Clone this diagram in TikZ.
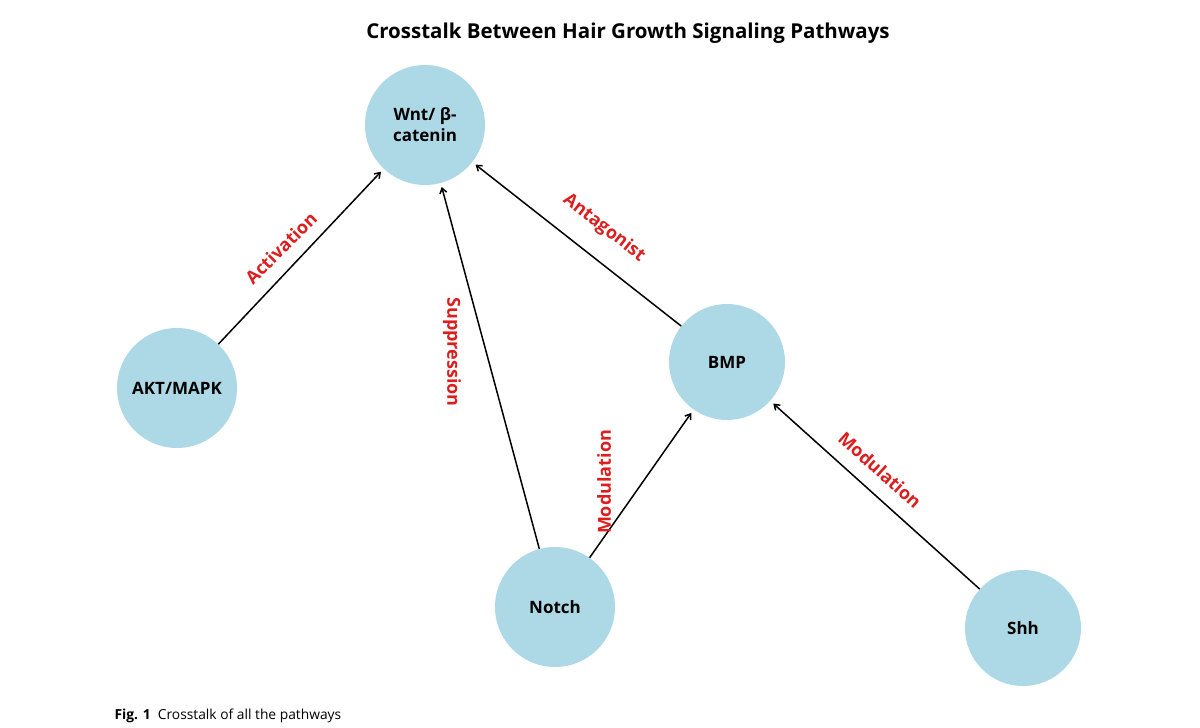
\documentclass[tikz,border=0pt]{standalone}
\usepackage{fontspec}
\setmainfont{Open Sans}
\usetikzlibrary{arrows.meta}
\begin{document}
\begin{tikzpicture}[x=1pt,y=-1pt,
  pw/.style={circle,fill={rgb,255:red,173;green,216;blue,230},draw=none,font=\fontsize{17}{21}\selectfont\bfseries,align=center},
  ed/.style={-{Straight Barb[length=5pt,width=7pt]},line width=1.5pt,shorten >=4pt},
  lab/.style={text={rgb,255:red,220;green,30;blue,30},font=\fontsize{18}{20}\selectfont\bfseries}]
\useasboundingbox (0,0) rectangle (1200,728);
\node[font=\fontsize{20.5}{24}\selectfont\bfseries] (title) at (628,33) {Crosstalk Between Hair Growth Signaling Pathways};
\node[pw,minimum size=120pt] (wnt) at (425,125) {Wnt/ β-\\catenin};
\node[pw,minimum size=120pt] (akt) at (177,388) {AKT/MAPK};
\node[pw,minimum size=116pt] (bmp) at (727,362) {BMP};
\node[pw,minimum size=120pt] (notch) at (555,607) {Notch};
\node[pw,minimum size=116pt] (shh) at (1023,628) {Shh};
\draw[ed] (akt) -- (wnt);
\draw[ed] (notch) -- (wnt);
\draw[ed] (bmp) -- (wnt);
\draw[ed] (notch) -- (bmp);
\draw[ed] (shh) -- (bmp);
\node[lab,rotate=45] (l1) at (281,248) {Activation};
\node[lab,rotate=-90] (l2) at (452,352) {Suppression};
\node[lab,rotate=-38] (l3) at (604,228) {Antagonist};
\node[lab,rotate=90] (l4) at (604,482) {Modulation};
\node[lab,rotate=-42] (l5) at (880,470) {Modulation};
\node[anchor=west,font=\fontsize{13.8}{16}\selectfont] (cap) at (111,716) {\textbf{Fig. 1}\ \ Crosstalk of all the pathways};
\end{tikzpicture}
\end{document}
